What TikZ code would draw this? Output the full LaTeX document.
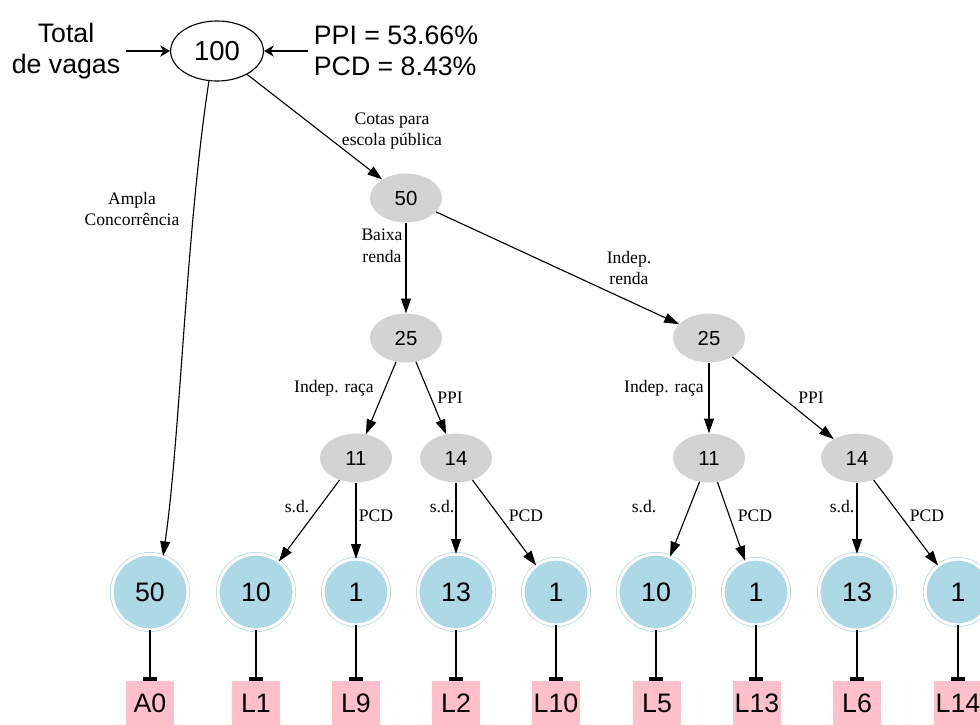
\documentclass[tikz,border=0pt]{standalone}
\usepackage{fontspec}
\setmainfont{Liberation Serif}
\setsansfont{Liberation Sans}
\usetikzlibrary{arrows.meta,shapes.geometric}
\definecolor{lightblu}{RGB}{173,216,230}
\definecolor{ringblu}{RGB}{175,212,224}
\definecolor{lightgry}{RGB}{211,211,211}
\definecolor{pinkbox}{RGB}{255,192,203}
\tikzset{
  raiz/.style={ellipse,draw,line width=0.8pt,fill=white,minimum width=2.32cm,minimum height=1.5cm,inner sep=0pt,font=\sffamily\fontsize{19.5}{22}\selectfont},
  ramo/.style={ellipse,fill=lightgry,minimum width=1.8cm,minimum height=1.22cm,inner sep=0pt,font=\sffamily\fontsize{14.5}{17}\selectfont},
  folha/.style={circle,fill=lightblu,draw=ringblu,line width=0.5pt,double=white,double distance=2.1pt,inner sep=0pt,font=\sffamily\fontsize{19}{22}\selectfont},
  folhagr/.style={folha,minimum size=1.89cm},
  folhapq/.style={folha,minimum size=1.64cm},
  lista/.style={rectangle,fill=pinkbox,minimum width=1.2cm,minimum height=1.1cm,inner sep=0pt,font=\sffamily\fontsize{19}{22}\selectfont},
  rotulo/.style={align=center,inner sep=0pt,font=\fontsize{12.5}{15.5}\selectfont},
  texto/.style={inner sep=4pt,font=\sffamily\fontsize{19}{22}\selectfont},
  seta/.style={-{Triangle[length=10.5pt,width=7pt]},line width=0.8pt},
  setatopo/.style={-{Stealth[length=7pt,width=8pt]},line width=0.9pt},
  tee/.style={-{Rectangle[length=3pt,width=10pt]},line width=0.8pt}
}
\begin{document}
\begin{tikzpicture}[x=0.025cm,y=-0.025cm]
\useasboundingbox (0,0) rectangle (980,724);
\node[raiz] (total100) at (217,51) {100};
\node[texto,align=center] (vagas) at (66,51) {Total\\de vagas};
\node[texto,align=left,anchor=west] (taxas) at (308,51) {PPI = 53.66\%\\PCD = 8.43\%};
\draw[setatopo] (vagas) -- (total100);
\draw[setatopo] (taxas) -- (total100);

\node[ramo] (esc50) at (406,198) {50};
\node[ramo] (baixa25) at (406,338) {25};
\node[ramo] (indep25) at (709,338) {25};
\node[ramo] (bR11) at (356,458) {11};
\node[ramo] (bP14) at (456,458) {14};
\node[ramo] (iR11) at (709,458) {11};
\node[ramo] (iP14) at (857,458) {14};

\node[folhagr] (fA0) at (150,592) {50};
\node[folhagr] (fL1) at (256,592) {10};
\node[folhapq] (fL9) at (356,592) {1};
\node[folhagr] (fL2) at (456,592) {13};
\node[folhapq] (fL10) at (556,592) {1};
\node[folhagr] (fL5) at (656,592) {10};
\node[folhapq] (fL13) at (756,592) {1};
\node[folhagr] (fL6) at (857,592) {13};
\node[folhapq] (fL14) at (958,592) {1};

\node[lista] (A0) at (150,703) {A0};
\node[lista] (L1) at (256,703) {L1};
\node[lista] (L9) at (356,703) {L9};
\node[lista] (L2) at (456,703) {L2};
\node[lista] (L10) at (556,703) {L10};
\node[lista] (L5) at (657,703) {L5};
\node[lista] (L13) at (757,703) {L13};
\node[lista] (L6) at (857,703) {L6};
\node[lista] (L14) at (958,703) {L14};

\draw[seta] (total100.-105) .. controls (186,230) and (180,440) .. (fA0.70);
\draw[seta] (total100) -- (esc50);
\draw[seta] (esc50) -- (baixa25);
\draw[seta] (esc50) -- (indep25);
\draw[seta] (baixa25) -- (bR11);
\draw[seta] (baixa25) -- (bP14);
\draw[seta] (indep25) -- (iR11);
\draw[seta] (indep25) -- (iP14);
\draw[seta] (bR11) -- (fL1);
\draw[seta] (bR11) -- (fL9);
\draw[seta] (bP14) -- (fL2);
\draw[seta] (bP14) -- (fL10);
\draw[seta] (iR11) -- (fL5);
\draw[seta] (iR11) -- (fL13);
\draw[seta] (iP14) -- (fL6);
\draw[seta] (iP14) -- (fL14);

\draw[tee] (fA0) -- (A0);
\draw[tee] (fL1) -- (L1);
\draw[tee] (fL9) -- (L9);
\draw[tee] (fL2) -- (L2);
\draw[tee] (fL10) -- (L10);
\draw[tee] (fL5.south) -- (L5.north -| fL5.south);
\draw[tee] (fL13.south) -- (L13.north -| fL13.south);
\draw[tee] (fL6) -- (L6);
\draw[tee] (fL14) -- (L14);

\node[rotulo] (lbAmpla) at (132,209) {Ampla\\Concorrência};
\node[rotulo] (lbCotas) at (392,131) {Cotas para\\escola pública};
\node[rotulo] (lbBaixa) at (382,246) {Baixa\\renda};
\node[rotulo] (lbIndep) at (629,268) {Indep.\\renda};
\node[rotulo] (lbRacaB) at (334,388) {Indep. raça};
\node[rotulo] (lbPPIB) at (450,398) {PPI};
\node[rotulo] (lbRacaI) at (664,388) {Indep. raça};
\node[rotulo] (lbPPII) at (811,398) {PPI};
\node[rotulo] (lbSdB1) at (297,507) {s.d.};
\node[rotulo] (lbPcdB1) at (376,516) {PCD};
\node[rotulo] (lbSdB2) at (442,507) {s.d.};
\node[rotulo] (lbPcdB2) at (526,516) {PCD};
\node[rotulo] (lbSdI1) at (644,507) {s.d.};
\node[rotulo] (lbPcdI1) at (755,516) {PCD};
\node[rotulo] (lbSdI2) at (842,507) {s.d.};
\node[rotulo] (lbPcdI2) at (927,516) {PCD};
\end{tikzpicture}
\end{document}
